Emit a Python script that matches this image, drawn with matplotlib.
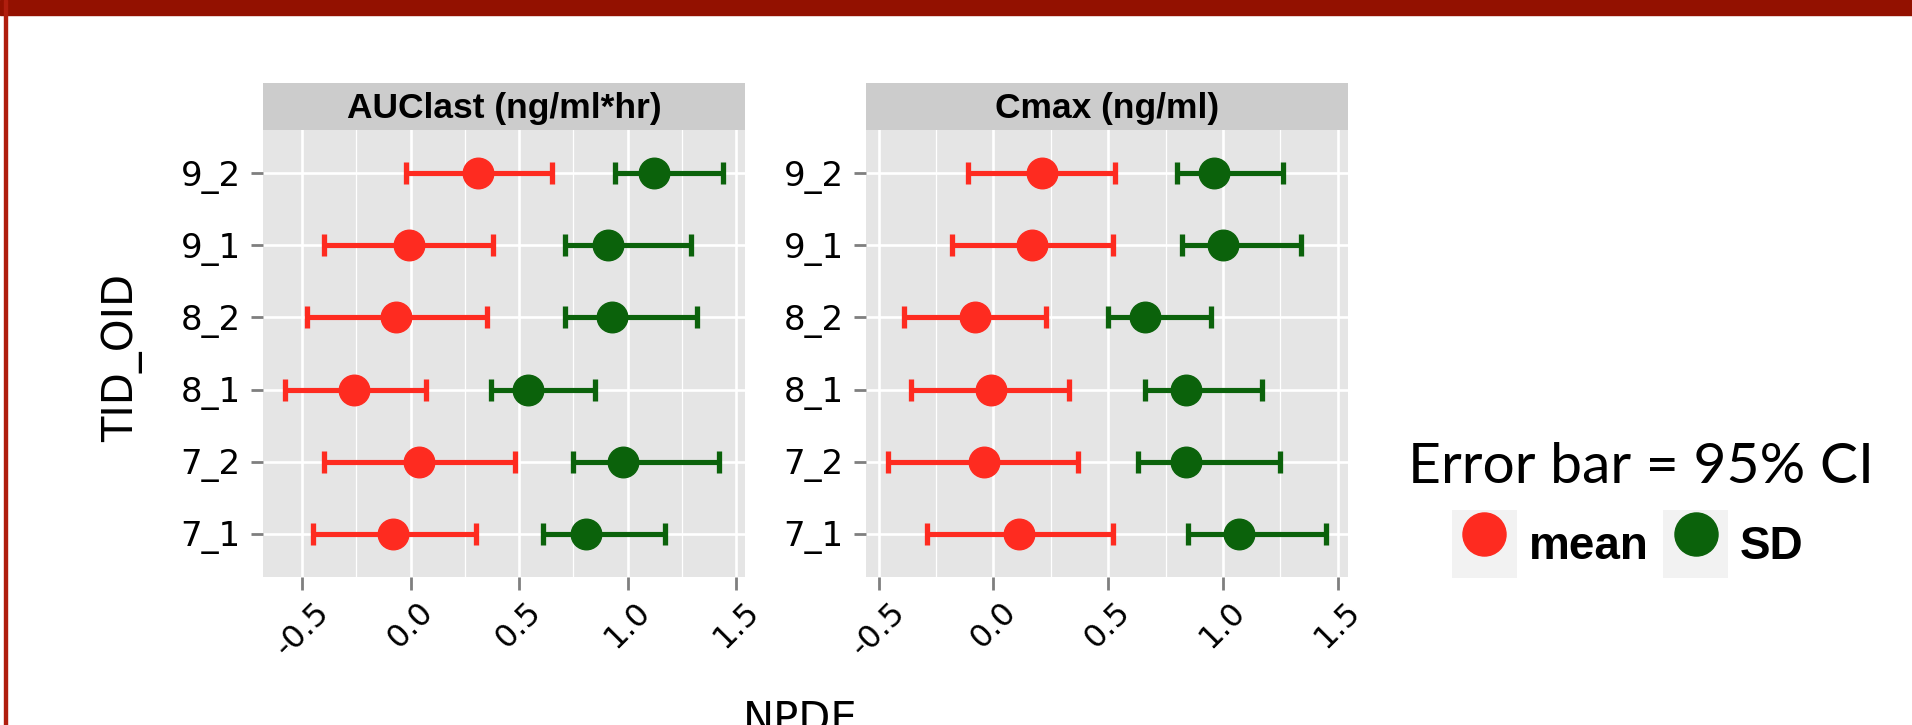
import matplotlib
matplotlib.use('Agg')
import matplotlib.pyplot as plt
from matplotlib.patches import Rectangle
from matplotlib.lines import Line2D
from matplotlib.legend_handler import HandlerTuple
from matplotlib.ticker import MultipleLocator
from matplotlib.transforms import ScaledTranslation

# rows from bottom to top
groups = ['7_1', '7_2', '8_1', '8_2', '9_1', '9_2']
panels = ['AUClast (ng/ml*hr)', 'Cmax (ng/ml)']

auc_mean = [-0.08, 0.04, -0.26, -0.07, -0.01, 0.31]
auc_mean_lo = [-0.45, -0.40, -0.58, -0.48, -0.40, -0.02]
auc_mean_hi = [0.30, 0.48, 0.07, 0.35, 0.38, 0.65]
auc_sd = [0.81, 0.98, 0.54, 0.93, 0.91, 1.12]
auc_sd_lo = [0.61, 0.75, 0.37, 0.71, 0.71, 0.94]
auc_sd_hi = [1.17, 1.42, 0.85, 1.32, 1.29, 1.44]

cmax_mean = [0.11, -0.04, -0.01, -0.08, 0.17, 0.21]
cmax_mean_lo = [-0.29, -0.46, -0.36, -0.39, -0.18, -0.11]
cmax_mean_hi = [0.52, 0.37, 0.33, 0.23, 0.52, 0.53]
cmax_sd = [1.07, 0.84, 0.84, 0.66, 1.00, 0.96]
cmax_sd_lo = [0.85, 0.63, 0.66, 0.50, 0.82, 0.80]
cmax_sd_hi = [1.45, 1.25, 1.17, 0.95, 1.34, 1.26]

red = '#FE2B20'
green = '#0B620B'
W, H = 1912, 725

fig = plt.figure(figsize=(W / 100, H / 100), dpi=100)

# red banner and left border of the slide
fig.patches.append(Rectangle((0, 1 - 15 / H), 1, 15 / H, transform=fig.transFigure,
                             color='#931100', zorder=0))
fig.patches.append(Rectangle((4 / W, 0), 3 / W, 1, transform=fig.transFigure,
                             color='#B01E0E', zorder=0))

data = [
    (auc_mean, auc_mean_lo, auc_mean_hi, auc_sd, auc_sd_lo, auc_sd_hi),
    (cmax_mean, cmax_mean_lo, cmax_mean_hi, cmax_sd, cmax_sd_lo, cmax_sd_hi),
]
lefts = [263, 866]
pw = 482
top, bot = 130, 577
y = list(range(1, len(groups) + 1))
shift = ScaledTranslation(-0.09, 0, fig.dpi_scale_trans)

for i, (title, d) in enumerate(zip(panels, data)):
    m, mlo, mhi, s, slo, shi = d
    ax = fig.add_axes([lefts[i] / W, 1 - bot / H, pw / W, (bot - top) / H])
    ax.set_facecolor('#E5E5E5')
    for sp in ax.spines.values():
        sp.set_visible(False)

    ax.errorbar(m, y, xerr=[[a - b for a, b in zip(m, mlo)], [b - a for a, b in zip(m, mhi)]],
                fmt='o', color=red, ms=22, elinewidth=3.7, capsize=8, capthick=3.8, zorder=3)
    ax.errorbar(s, y, xerr=[[a - b for a, b in zip(s, slo)], [b - a for a, b in zip(s, shi)]],
                fmt='o', color=green, ms=22, elinewidth=3.7, capsize=8, capthick=3.8, zorder=3)

    # ggplot style 5% expansion
    lo = min(mlo + slo)
    hi = max(mhi + shi)
    pad = (hi - lo) * 0.05
    ax.set_xlim(lo - pad, hi + pad)
    ax.set_ylim(0.4, len(groups) + 0.6)

    ax.xaxis.set_major_locator(MultipleLocator(0.5))
    ax.xaxis.set_minor_locator(MultipleLocator(0.25))
    ax.set_yticks(y)
    ax.set_yticklabels(groups, fontsize=24.5, family='DejaVu Sans')
    ax.set_xticks(ax.get_xticks())
    ax.set_xlim(lo - pad, hi + pad)
    ax.set_xticklabels(['%.1f' % t for t in ax.get_xticks()], rotation=45, ha='center',
                       fontsize=23, family='DejaVu Sans')
    for lbl in ax.get_xticklabels():
        lbl.set_transform(lbl.get_transform() + shift)
    ax.grid(which='major', color='white', lw=1.9)
    ax.grid(which='minor', axis='x', color='white', lw=0.9)
    ax.set_axisbelow(True)
    ax.tick_params(which='major', length=9, width=2, color='#7F7F7F', pad=5)
    ax.tick_params(axis='y', pad=7)
    ax.tick_params(which='minor', length=0)

    sax = fig.add_axes([lefts[i] / W, 1 - top / H, pw / W, 47 / H])
    sax.set_facecolor('#CCCCCC')
    sax.set_xticks([])
    sax.set_yticks([])
    for sp in sax.spines.values():
        sp.set_visible(False)
    sax.text(0.5, 0.45, title, ha='center', va='center', fontsize=25.5, fontweight='bold',
             family='Liberation Sans', transform=sax.transAxes)

fig.text(122 / W, 1 - 358 / H, 'TID_OID', rotation=90, ha='center', va='center',
         fontsize=30, family='DejaVu Sans')
fig.text(800 / W, 1 - 699 / H, 'NPDE', ha='center', va='top', fontsize=30, family='DejaVu Sans')

# legend: title as separate text, keys with grey background
fig.text(1641 / W, 1 - 483 / H, 'Error bar = 95% CI', ha='center', va='baseline',
         fontsize=41, family='Lato')
key_bg = dict(facecolor='#F2F2F2', edgecolor='none')
h_mean = (Rectangle((0, 0), 1, 1, **key_bg),
          Line2D([], [], marker='o', ls='none', color=red, ms=31))
h_sd = (Rectangle((0, 0), 1, 1, **key_bg),
        Line2D([], [], marker='o', ls='none', color=green, ms=31))
leg = fig.legend([h_mean, h_sd], ['mean', 'SD'], handler_map={tuple: HandlerTuple(ndivide=1)},
                 loc='center', bbox_to_anchor=(1628 / W, 1 - 544 / H), ncol=2, frameon=False,
                 prop={'family': 'Liberation Sans', 'weight': 'bold', 'size': 33},
                 handlelength=1.4, handleheight=1.9, handletextpad=0.27, columnspacing=0.32,
                 borderpad=0, labelspacing=0)

fig.savefig('out.png', dpi=100)
